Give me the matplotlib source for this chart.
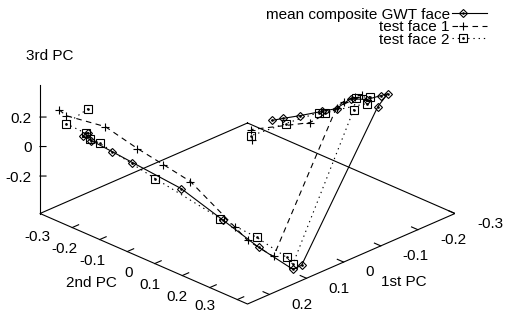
import numpy as np
import matplotlib
matplotlib.use("Agg")
import matplotlib.pyplot as plt
from matplotlib.lines import Line2D
from matplotlib.legend_handler import HandlerBase

plt.rcParams['font.family'] = ['Liberation Sans', 'DejaVu Sans']
FS = 11

# ---------------- data (1st, 2nd, 3rd principal components) ----------------
mean_pc1 = [0.228, 0.231, 0.226, 0.214, 0.202, 0.174, 0.149, 0.128, 0.108, 0.103,
            -0.244, -0.255, -0.247, -0.232, -0.214, -0.198, -0.182, -0.158, -0.138, -0.126]
mean_pc2 = [-0.284, -0.298, -0.275, -0.215, -0.158, -0.019, 0.101, 0.201, 0.298, 0.323,
            0.132, 0.153, 0.138, 0.108, 0.074, 0.044, 0.012, -0.033, -0.071, -0.094]
mean_pc3 = [0.169, 0.140, 0.120, 0.080, 0.040, -0.054, -0.200, -0.324, -0.416, -0.374,
            0.165, 0.258, 0.241, 0.207, 0.205, 0.131, 0.103, 0.065, 0.036, 0.017]

test1_pc1 = [0.245, 0.241, 0.218, 0.199, 0.184, 0.168, 0.142, 0.135, 0.120,
             -0.198, -0.206, -0.218, -0.226, -0.168, -0.103, -0.104]
test1_pc2 = [-0.367, -0.347, -0.235, -0.144, -0.070, 0.007, 0.135, 0.170, 0.244,
             0.044, 0.059, 0.083, 0.098, -0.013, -0.137, -0.135]
test1_pc3 = [0.276, 0.247, 0.238, 0.143, 0.078, 0.008, -0.228, -0.295, -0.360,
             0.138, 0.182, 0.221, 0.238, 0.022, -0.054, -0.128]

test2_pc1 = [0.228, 0.241, 0.229, 0.227, 0.221, 0.189, 0.151, 0.129, 0.112, 0.108,
             -0.217, -0.220, -0.235, -0.232, -0.185, -0.178, -0.141, -0.103]
test2_pc2 = [-0.284, -0.346, -0.290, -0.278, -0.250, -0.093, 0.093, 0.195, 0.281, 0.298,
             0.081, 0.085, 0.115, 0.108, 0.019, 0.006, -0.064, -0.137]
test2_pc3 = [0.331, 0.193, 0.159, 0.132, 0.115, -0.030, -0.192, -0.260, -0.345, -0.382,
             0.133, 0.215, 0.229, 0.180, 0.098, 0.095, 0.004, -0.095]

series_labels = ["mean composite GWT face", "test face 1", "test face 2"]

xlim = (-0.300, 0.259)
ylim = (-0.417, 0.337)
zlim = (-0.454, 0.414)
xticks = [-0.3, -0.2, -0.1, 0.0, 0.1, 0.2]
xticklabels = ["-0.3", "-0.2", "-0.1", "0", "0.1", "0.2"]
yticks = [-0.3, -0.2, -0.1, 0.0, 0.1, 0.2, 0.3]
yticklabels = ["-0.3", "-0.2", "-0.1", "0", "0.1", "0.2", "0.3"]
zticks = [-0.2, 0.0, 0.2]
zticklabels = ["-0.2", "0", "0.2"]

# ---------------- figure / 3D axes ----------------
W, H = 508, 314
fig = plt.figure(figsize=(W / 100, H / 100), dpi=100)
ax = fig.add_axes([0, 0, 1, 1], projection='3d', proj_type='ortho')
ax.view_init(elev=25.86, azim=45)
ax.set_box_aspect((1, 1, 0.4848))
ax.set_xlim(xlim)
ax.set_ylim(ylim)
ax.set_zlim(zlim)
ax.set_axis_off()
for axis in (ax.xaxis, ax.yaxis, ax.zaxis):
    axis.set_visible(False)
    axis.label.set_visible(False)
    axis.offsetText.set_visible(False)
for t in (ax.title, ax._left_title, ax._right_title):
    t.set_visible(False)


def proj_px(x, y, z):
    M = ax.get_proj()
    v = M @ np.array([x, y, z, 1.0])
    return ax.transData.transform((v[0] / v[3], v[1] / v[3]))


# calibrate axes placement so the base rhombus lands where the reference has it
target_center = np.array([247.5, H - 213.5])
target_width = 455.0 - 40.0
for _ in range(3):
    fig.canvas.draw()
    left = proj_px(xlim[1], ylim[0], zlim[0])
    right = proj_px(xlim[0], ylim[1], zlim[0])
    top = proj_px(xlim[0], ylim[0], zlim[0])
    bot = proj_px(xlim[1], ylim[1], zlim[0])
    c = (left + right + top + bot) / 4.0
    k = target_width / (right[0] - left[0])
    bb = ax.get_position().transformed(fig.transFigure)
    L = bb.width
    Ac = np.array([bb.x0 + bb.width / 2, bb.y0 + bb.height / 2])
    d = c - Ac
    newL = L * k
    newAc = target_center - d * k
    ax.set_position([(newAc[0] - newL / 2) / W, (newAc[1] - newL / 2) / H,
                     newL / W, newL / H])
fig.canvas.draw()
renderer = fig.canvas.get_renderer()

lw = 0.8
# base border
ax.plot([xlim[0], xlim[1], xlim[1], xlim[0], xlim[0]],
        [ylim[0], ylim[0], ylim[1], ylim[1], ylim[0]],
        [zlim[0]] * 5, color='k', lw=lw)
# vertical z axis at left corner
ax.plot([xlim[1], xlim[1]], [ylim[0], ylim[0]], [zlim[0], zlim[1]], color='k', lw=lw)

# ticks
for xt in xticks:
    ax.plot([xt, xt], [ylim[1], ylim[1] - 0.023], [zlim[0], zlim[0]], color='k', lw=lw)
for yt in yticks:
    ax.plot([xlim[1], xlim[1] - 0.0173], [yt, yt], [zlim[0], zlim[0]], color='k', lw=lw)
for zt in zticks:
    ax.plot([xlim[1], xlim[1] - 0.0081], [ylim[0], ylim[0] + 0.0109], [zt, zt], color='k', lw=lw)


def label_at(x, y, z, s, ha):
    p = proj_px(x, y, z)
    t = fig.text(p[0] / W, p[1] / H, s, ha=ha, va='center', fontsize=FS)
    ext = t.get_window_extent(renderer)
    if ext.y0 < 0.5:  # keep the text box inside the canvas
        t.set_y((p[1] + 0.5 - ext.y0) / H)
    return t


# tick labels (anchored at projected 3D positions just outside the box)
for xt, s in zip(xticks, xticklabels):
    label_at(xt, ylim[1] + 0.080, zlim[0] - 0.005, s, 'left')
for yt, s in zip(yticks, yticklabels):
    label_at(xlim[1] + 0.0594, yt, zlim[0] - 0.001, s, 'right')
for zt, s in zip(zticks, zticklabels):
    label_at(xlim[1] + 0.0108, ylim[0] - 0.0146, zt - 0.01, s, 'right')

# axis labels
fig.text(91.7 / W, 1 - 283 / H, "2nd PC", ha='center', va='center', fontsize=FS)
fig.text(404 / W, 1 - 282 / H, "1st PC", ha='center', va='center', fontsize=FS)
fig.text(50 / W, 1 - 56 / H, "3rd PC", ha='center', va='center', fontsize=FS)

# data series
STY = {
    'mean': dict(color='k', lw=lw, ls='-', marker='D', ms=4.0, mfc='none', mec='k', mew=0.8),
    't1': dict(color='k', lw=lw, ls=(0, (5, 4)), marker='+', ms=6.0, mec='k', mew=0.8),
    't2': dict(color='k', lw=lw, ls=(0, (1.2, 3.5)), marker='s', ms=5.6, mfc='none', mec='k', mew=0.8),
}
ax.plot(mean_pc1, mean_pc2, mean_pc3, **STY['mean'])
ax.plot(mean_pc1, mean_pc2, mean_pc3, ls='none', marker='.', ms=1.8, color='k')
ax.plot(test1_pc1, test1_pc2, test1_pc3, **STY['t1'])
ax.plot(test2_pc1, test2_pc2, test2_pc3, **STY['t2'])
ax.plot(test2_pc1, test2_pc2, test2_pc3, ls='none', marker='.', ms=1.8, color='k')

# legend proxies (2D lines carrying the same styles)
proxies = [Line2D([], [], **STY['mean']), Line2D([], [], **STY['t1']), Line2D([], [], **STY['t2'])]
proxy_dot = {id(proxies[0]), id(proxies[2])}


class KeyHandler(HandlerBase):
    def create_artists(self, legend, orig, xdescent, ydescent, width, height,
                       fontsize, trans):
        y = height / 2.0 - ydescent
        x0 = -xdescent
        xm = x0 + 0.3 * width
        line = Line2D([x0, x0 + width], [y, y], color='k', lw=orig.get_linewidth())
        line.set_linestyle(orig._unscaled_dash_pattern if orig.get_linestyle() == '--'
                           else orig.get_linestyle())
        mk = Line2D([xm], [y], ls='None', marker=orig.get_marker(),
                    ms=orig.get_markersize(), mfc=orig.get_markerfacecolor(),
                    mec='k', mew=orig.get_markeredgewidth())
        arts = [line, mk]
        if id(orig) in proxy_dot:
            arts.append(Line2D([xm], [y], ls='None', marker='.', ms=1.8, color='k'))
        for a in arts:
            a.set_transform(trans)
        return arts


fig.legend(proxies, series_labels, loc='upper right',
           bbox_to_anchor=(487 / W, 1 - 7.5 / H), bbox_transform=fig.transFigure,
           frameon=False, borderpad=0, borderaxespad=0,
           handlelength=2.29, handletextpad=0.15, labelspacing=-0.09,
           markerfirst=False, fontsize=FS,
           handler_map={Line2D: KeyHandler()})

fig.savefig("out.png", dpi=100)
